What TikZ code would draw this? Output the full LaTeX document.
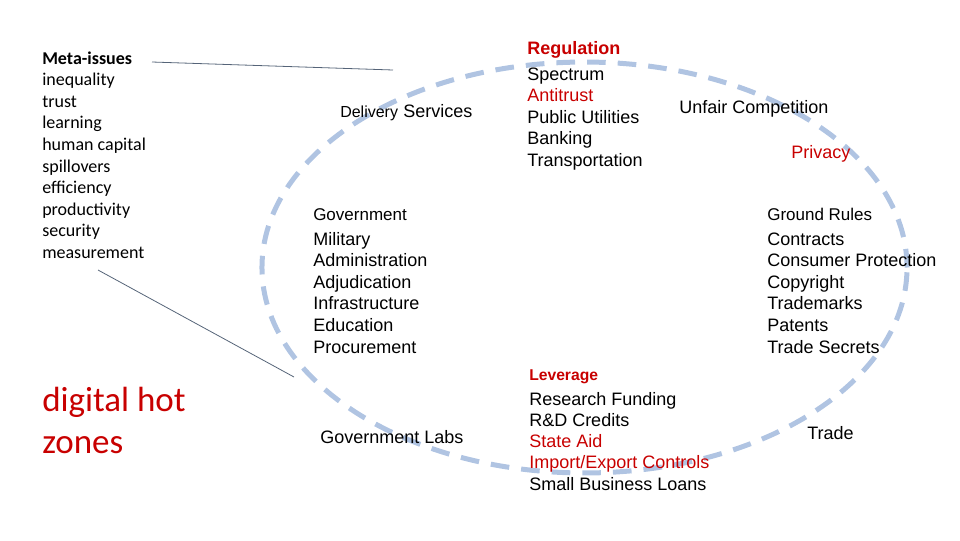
\documentclass[tikz,border=0pt]{standalone}
\usepackage{fontspec}
\setmainfont{Liberation Sans}
\newfontfamily\calfont{Carlito}
\definecolor{hotred}{RGB}{200,0,0}
\definecolor{ringblue}{RGB}{176,196,226}
\definecolor{leader}{RGB}{85,100,120}
\tikzset{
  txt/.style={inner sep=0, anchor=base west, font=\fontsize{13.5}{16}\selectfont},
  small/.style={inner sep=0, anchor=base west, font=\fontsize{12.75}{15}\selectfont},
  meta/.style={inner sep=0, anchor=base west, font=\calfont\fontsize{13.5}{16}\selectfont},
  red/.style={text=hotred},
  ring/.style={draw=ringblue, line width=3.75pt, dash pattern=on 14pt off 9pt},
  leaderline/.style={draw=leader, line width=0.6pt}
}
\begin{document}
\begin{tikzpicture}[x=0.75pt,y=-0.75pt]
\useasboundingbox (0,0) rectangle (960,540);
% ring
\draw[ring] (584.5,267.5) ellipse [x radius=241.9pt, y radius=154.1pt];
% meta issues
\node[meta, font=\calfont\bfseries\fontsize{13.5}{16}\selectfont] (m0) at (42,64) {Meta-issues};
\node[meta] (m1) at (42,85.6) {inequality};
\node[meta] (m2) at (42,107.2) {trust};
\node[meta] (m3) at (42,128.8) {learning};
\node[meta] (m4) at (42,150.4) {human capital};
\node[meta] (m5) at (42,172) {spillovers};
\node[meta] (m6) at (42,193.6) {efficiency};
\node[meta] (m7) at (42,215.2) {productivity};
\node[meta] (m8) at (42,236.8) {security};
\node[meta] (m9) at (42,258.4) {measurement};
\node[meta, red, font=\calfont\fontsize{26.25}{31.5}\selectfont] (hz1) at (42,411) {digital hot};
\node[meta, red, font=\calfont\fontsize{26.25}{31.5}\selectfont] (hz2) at (42,453) {zones};
% leader lines
\coordinate (l1a) at (152,62);
\coordinate (l1b) at (393,70);
\coordinate (l2a) at (98,270);
\coordinate (l2b) at (294,377);
\draw[leaderline] (l1a) -- (l1b);
\draw[leaderline] (l2a) -- (l2b);
% delivery services
\node[small, font=\fontsize{12}{14}\selectfont] (del) at (340,117) {Delivery};
\node[txt] (serv) at (403,117) {Services};
% regulation
\node[txt, red, font=\bfseries\fontsize{13.5}{16}\selectfont] (reg) at (527,54) {Regulation};
\node[txt] (r1) at (527,80) {Spectrum};
\node[txt, red] (r2) at (527,101.5) {Antitrust};
\node[txt] (r3) at (527,123) {Public Utilities};
\node[txt] (r4) at (527,144.5) {Banking};
\node[txt] (r5) at (527,166) {Transportation};
\node[txt, font=\fontsize{13.5}{16}\selectfont] (unf) at (679,113) {Unfair Competition};
\node[txt, red] (priv) at (791,158) {Privacy};
% government
\node[small] (gov) at (313,220) {Government};
\node[txt] (g1) at (313,245) {Military};
\node[txt] (g2) at (313,266.6) {Administration};
\node[txt] (g3) at (313,288.2) {Adjudication};
\node[txt] (g4) at (313,309.8) {Infrastructure};
\node[txt] (g5) at (313,331.4) {Education};
\node[txt] (g6) at (313,353) {Procurement};
% ground rules
\node[small] (gr) at (767,220) {Ground Rules};
\node[txt] (c1) at (767,245) {Contracts};
\node[txt] (c2) at (767,266.6) {Consumer Protection};
\node[txt] (c3) at (767,288.2) {Copyright};
\node[txt] (c4) at (767,309.8) {Trademarks};
\node[txt] (c5) at (767,331.4) {Patents};
\node[txt] (c6) at (767,353) {Trade Secrets};
% leverage
\node[small, red, font=\bfseries\fontsize{11.75}{14}\selectfont] (lev) at (529,380) {Leverage};
\node[txt] (v1) at (529,405) {Research Funding};
\node[txt] (v2) at (529,426.3) {R\&D Credits};
\node[txt, red] (v3) at (529,447.6) {State Aid};
\node[txt, red] (v4) at (529,468.9) {Import/Export Controls};
\node[txt] (v5) at (529,490.2) {Small Business Loans};
\node[txt] (trade) at (807,439) {Trade};
\node[txt] (glabs) at (320,443) {Government Labs};
\end{tikzpicture}
\end{document}
